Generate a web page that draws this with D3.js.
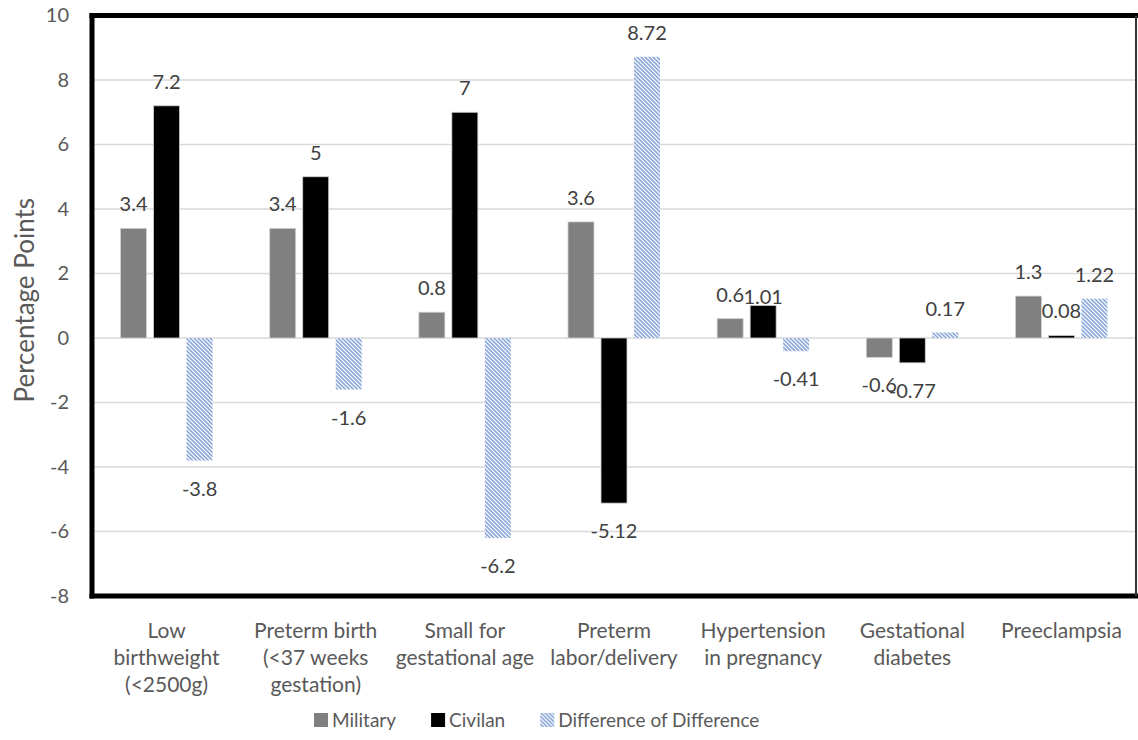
<!DOCTYPE html>
<html>
<head>
<meta charset="utf-8">
<script src="https://cdn.jsdelivr.net/npm/d3@7"></script>
<style>
  html, body { margin: 0; padding: 0; background: #fff; }
  svg { display: block; }
  text { font-family: Lato, "Open Sans", sans-serif; }
</style>
</head>
<body>
<svg id="chart" width="1138" height="740"></svg>
<script>
// ---- data ----
const categories = [
  "Low birthweight (<2500g)",
  "Preterm birth (<37 weeks gestation)",
  "Small for gestational age",
  "Preterm labor/delivery",
  "Hypertension in pregnancy",
  "Gestational diabetes",
  "Preeclampsia"
];
const categoryLines = [
  ["Low", "birthweight", "(<2500g)"],
  ["Preterm birth", "(<37 weeks", "gestation)"],
  ["Small for", "gestational age"],
  ["Preterm", "labor/delivery"],
  ["Hypertension", "in pregnancy"],
  ["Gestational", "diabetes"],
  ["Preeclampsia"]
];
const seriesNames = ["Military", "Civilan", "Difference of Difference"];
const military = [3.4, 3.4, 0.8, 3.6, 0.6, -0.6, 1.3];
const civilian = [7.2, 5, 7, -5.12, 1.01, -0.77, 0.08];
const diffOfDiff = [-3.8, -1.6, -6.2, 8.72, -0.41, 0.17, 1.22];
const yTicks = [-8, -6, -4, -2, 0, 2, 4, 6, 8, 10];
const yTitle = "Percentage Points";

// ---- layout ----
const svg = d3.select("#chart");
const plot = { left: 92, right: 1136, top: 15.5, bottom: 596 };

const y = d3.scaleLinear().domain([-8, 10]).range([plot.bottom, plot.top]);
const x = d3.scaleBand().domain(categories).range([plot.left, plot.right]).paddingInner(0).paddingOuter(0);
const bw = x.bandwidth();
const xs = d3.scaleBand().domain(seriesNames)
  .range([bw / 2 - 46, bw / 2 + 46]).paddingInner(7 / 33).paddingOuter(0);

// pattern
const defs = svg.append("defs");
const pat = defs.append("pattern")
  .attr("id", "hatch").attr("patternUnits", "userSpaceOnUse")
  .attr("width", 4).attr("height", 4);
pat.append("rect").attr("width", 4).attr("height", 4).attr("fill", "#fff");
pat.append("path")
  .attr("d", "M-1,-1 L5,5 M3,-1 L5,1 M-1,3 L1,5")
  .attr("stroke", "#8eaadb").attr("stroke-width", 1.6);

// gridlines
svg.append("g").selectAll("line").data(yTicks.filter(t => t !== -8 && t !== 10)).join("line")
  .attr("x1", plot.left).attr("x2", plot.right)
  .attr("y1", d => y(d)).attr("y2", d => y(d))
  .attr("stroke", "#d9d9d9").attr("stroke-width", 1.5);

// y axis labels
const yAxis = d3.axisLeft(y).tickValues(yTicks).tickSize(0).tickPadding(0).tickFormat(d => String(d));
const ga = svg.append("g").attr("transform", `translate(${69},0)`).call(yAxis);
ga.select(".domain").remove();
ga.selectAll("text").attr("font-size", 20).attr("fill", "#595959")
  .attr("font-family", "Lato, 'Open Sans', sans-serif");

// bars
const seriesData = [military, civilian, diffOfDiff];
const fills = ["#808080", "#000000", "url(#hatch)"];
seriesNames.forEach((s, si) => {
  const g = svg.append("g");
  g.selectAll("rect").data(seriesData[si]).join("rect")
    .attr("x", (d, i) => x(categories[i]) + xs(s))
    .attr("width", xs.bandwidth())
    .attr("y", d => Math.min(y(d), y(0)))
    .attr("height", d => Math.abs(y(d) - y(0)))
    .attr("fill", fills[si])
    .attr("stroke", si === 2 ? "none" : "#d0d0d0")
    .attr("stroke-width", si === 2 ? 0 : 0.8);
});

// data labels (the reference's "1.01" label sits lower, level with "0.6")
const labelShift = (si, i) => (si === 1 && i === 4) ? 16 : 0;
seriesNames.forEach((s, si) => {
  svg.append("g").selectAll("text").data(seriesData[si]).join("text")
    .attr("x", (d, i) => x(categories[i]) + xs(s) + xs.bandwidth() / 2)
    .attr("y", (d, i) => (d >= 0 ? y(d) - 24 : y(d) + 28) + labelShift(si, i))
    .attr("dy", "0.35em")
    .attr("text-anchor", "middle")
    .attr("font-size", 20)
    .attr("fill", "#404040")
    .text(d => String(d));
});

// frame
const frame = svg.append("g");
frame.append("line").attr("x1", plot.left - 2.5).attr("x2", 1138).attr("y1", plot.top).attr("y2", plot.top)
  .attr("stroke", "#000").attr("stroke-width", 5);
frame.append("line").attr("x1", plot.left - 2.5).attr("x2", 1138).attr("y1", plot.bottom).attr("y2", plot.bottom)
  .attr("stroke", "#000").attr("stroke-width", 5);
frame.append("line").attr("x1", plot.left).attr("x2", plot.left).attr("y1", plot.top - 2.5).attr("y2", plot.bottom + 2.5)
  .attr("stroke", "#000").attr("stroke-width", 5);
frame.append("line").attr("x1", plot.right).attr("x2", plot.right).attr("y1", plot.top).attr("y2", plot.bottom)
  .attr("stroke", "#333").attr("stroke-width", 2);

// category labels
const cg = svg.append("g");
categoryLines.forEach((lines, i) => {
  const t = cg.append("text")
    .attr("x", x(categories[i]) + bw / 2)
    .attr("y", 631)
    .attr("text-anchor", "middle")
    .attr("font-size", 21)
    .attr("fill", "#595959");
  lines.forEach((ln, j) => {
    t.append("tspan").attr("x", x(categories[i]) + bw / 2)
      .attr("y", 631 + j * 27).attr("dy", "0.35em").text(ln);
  });
});

// y title
svg.append("text")
  .attr("transform", `translate(34,${y(-2)}) rotate(-90)`)
  .attr("text-anchor", "start")
  .attr("font-size", 26).attr("fill", "#595959")
  .text(yTitle);

// legend
const lg = svg.append("g");
const items = seriesNames.map((s, i) => {
  const it = lg.append("g");
  it.append("rect").attr("width", 14).attr("height", 14).attr("y", -7)
    .attr("fill", fills[i]);
  const tx = it.append("text").attr("x", 18).attr("dy", "0.35em")
    .attr("font-size", 19).attr("fill", "#595959").text(s);
  return { g: it, w: 18 + tx.node().getComputedTextLength() };
});
const gap = 35;
let cx = 314;
items.forEach(it => { it.g.attr("transform", `translate(${cx},720)`); cx += it.w + gap; });
</script>
</body>
</html>
